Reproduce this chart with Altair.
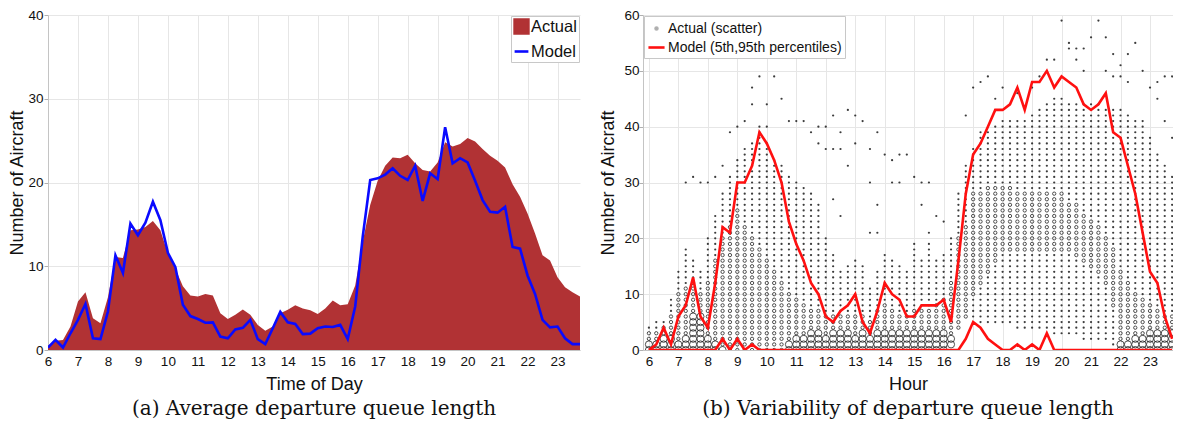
import altair as alt
import pandas as pd

FONT = "Liberation Sans"
SERIF = "DejaVu Serif"
RED_AREA = "#b13234"
BLUE = "#0a0aff"
RED = "#ff1010"

hours = [6.0, 6.25, 6.5, 6.75, 7.0, 7.25, 7.5, 7.75, 8.0, 8.25, 8.5, 8.75,
         9.0, 9.25, 9.5, 9.75, 10.0, 10.25, 10.5, 10.75, 11.0, 11.25, 11.5, 11.75,
         12.0, 12.25, 12.5, 12.75, 13.0, 13.25, 13.5, 13.75, 14.0, 14.25, 14.5, 14.75,
         15.0, 15.25, 15.5, 15.75, 16.0, 16.25, 16.5, 16.75, 17.0, 17.25, 17.5, 17.75,
         18.0, 18.25, 18.5, 18.75, 19.0, 19.25, 19.5, 19.75, 20.0, 20.25, 20.5, 20.75,
         21.0, 21.25, 21.5, 21.75, 22.0, 22.25, 22.5, 22.75, 23.0, 23.25, 23.5, 23.75]
hour_ticks = [6, 7, 8, 9, 10, 11, 12, 13, 14, 15, 16, 17, 18, 19, 20, 21, 22, 23]

# (a) average queue length
actual = [0.5, 1.1, 1.2, 2.8, 5.8, 6.9, 3.8, 3.2, 6.3, 11.1, 11.0, 14.3,
          14.4, 14.7, 15.4, 14.3, 11.5, 9.7, 7.6, 6.5, 6.4, 6.7, 6.5, 4.4,
          3.7, 4.2, 4.85, 4.2, 3.0, 2.3, 2.8, 4.4, 4.8, 5.35, 4.95, 4.75,
          4.3, 4.95, 5.9, 5.35, 5.45, 7.7, 12.9, 17.3, 20.2, 22.0, 23.0, 22.9,
          23.3, 22.3, 21.5, 21.3, 22.4, 24.8, 24.3, 24.6, 25.3, 24.9, 24.0, 23.2,
          22.6, 21.8, 19.8, 18.3, 16.3, 13.9, 11.3, 10.7, 8.7, 7.5, 6.9, 6.4]
model = [0.3, 1.2, 0.3, 2.0, 3.6, 5.5, 1.4, 1.3, 4.6, 11.3, 9.2, 15.1,
         13.7, 15.2, 17.7, 15.5, 11.6, 9.9, 5.4, 4.05, 3.7, 3.25, 3.3, 1.6,
         1.4, 2.45, 2.65, 3.6, 1.3, 0.7, 2.6, 4.55, 3.3, 3.1, 1.9, 1.95,
         2.6, 2.8, 2.75, 3.0, 1.3, 5.2, 13.5, 20.3, 20.5, 20.95, 21.7, 20.8,
         20.3, 22.0, 17.8, 21.1, 20.4, 26.6, 22.3, 22.9, 22.4, 20.2, 17.9, 16.5,
         16.4, 17.1, 12.3, 12.1, 8.9, 6.7, 3.6, 2.7, 2.8, 1.4, 0.7, 0.7]

# (b) model percentiles
p95 = [0, 1, 4, 1, 6, 8, 13, 6, 4, 12, 22, 21,
       30, 30, 33, 39, 37, 34, 30, 23, 19, 16, 12, 10,
       6, 5, 7, 8, 10, 5, 3, 7, 12, 10, 9, 6,
       6, 8, 8, 8, 9, 5, 16, 28, 35, 37, 40, 43,
       43, 44, 47, 43, 48, 48, 50, 47, 49, 48, 47, 44,
       43, 44, 46, 39, 38, 33, 28, 21, 14, 12, 6, 2]
p5 = [0, 0, 0, 0, 0, 0, 0, 0, 0, 0, 2, 0,
      2, 0, 1, 0, 0, 0, 0, 0, 0, 0, 0, 0,
      0, 0, 0, 0, 0, 0, 0, 0, 0, 0, 0, 0,
      0, 0, 0, 0, 0, 0, 0, 2, 5, 4, 2, 1,
      0, 0, 1, 0, 1, 0, 3, 0, 0, 0, 0, 0,
      0, 0, 0, 0, 0, 0, 0, 0, 0, 0, 0, 0]

# (b) observed scatter: per quarter-hour column, lowest / highest count,
# top of the big circles, and the band of medium circles
col_lo = [0, 0, 0, 0, 0, 0, 0, 0, 0, 0, 0, 0,
          0, 0, 0, 0, 0, 0, 0, 0, 0, 0, 0, 0,
          0, 0, 0, 0, 0, 0, 0, 0, 0, 0, 0, 0,
          0, 0, 0, 0, 0, 1, 4, 6, 6, 5, 5, 5,
          5, 5, 4, 4, 4, 4, 4, 3, 3, 3, 3, 2,
          2, 2, 2, 1, 0, 0, 0, 0, 0, 0, 0, 0]
col_top = [4, 5, 5, 9, 14, 18, 16, 14, 20, 24, 28, 31,
           34, 36, 37, 40, 37, 34, 33, 31, 30, 29, 28, 26,
           20, 17, 14, 15, 16, 15, 11, 14, 17, 16, 15, 14,
           19, 16, 19, 16, 17, 20, 28, 33, 36, 39, 39, 40,
           41, 41, 41, 41, 42, 43, 44, 45, 45, 44, 44, 44,
           44, 44, 43, 43, 43, 42, 41, 41, 38, 35, 33, 31]
big_hi = [1, 1, 2, 2, 1, 2, 6, 6, 2, 1, 0, -1,
          -1, -1, -1, -1, -1, -1, -1, 1, 2, 2, 3, 3,
          2, 3, 3, 3, 2, 3, 2, 3, 3, 3, 3, 3,
          3, 3, 3, 3, 3, 2, -1, -1, -1, -1, -1, -1,
          -1, -1, -1, -1, -1, -1, -1, -1, -1, -1, -1, -1,
          -1, -1, -1, -1, 1, 1, 2, 2, 3, 3, 3, 3]
mid_lo = [2, 2, 3, 3, 2, 3, 7, 7, 3, 2, 1, 0,
          0, 0, 0, 0, 0, 0, 0, 2, 3, 3, 4, 4,
          3, 4, 4, 4, 3, 4, 3, 4, 4, 4, 4, 4,
          4, 4, 4, 4, 4, 3, 4, 6, 10, 12, 14, 16,
          18, 18, 18, 18, 18, 18, 18, 18, 18, 18, 17, 16,
          15, 14, 12, 8, 2, 2, 3, 3, 4, 4, 4, 4]
mid_hi = [3, 3, 4, 6, 10, 11, 12, 10, 12, 16, 20, 22,
          25, 22, 20, 18, 16, 14, 12, 10, 9, 8, 7, 7,
          6, 6, 6, 6, 6, 6, 5, 7, 8, 7, 6, 6,
          7, 7, 7, 8, 9, 12, 20, 22, 28, 28, 29, 29,
          29, 29, 28, 28, 28, 28, 28, 28, 28, 26, 26, 24,
          23, 22, 20, 18, 14, 12, 10, 9, 8, 7, 6, 6]

# isolated observations above the columns
out_hour = [7.25, 7.5, 7.75, 8.0, 8.25, 8.5, 8.75, 9.0, 9.25, 9.5, 9.5, 9.75,
            10.0, 10.0, 10.25, 10.5, 10.75, 11.0, 11.25, 11.5, 11.75, 12.0, 12.25, 12.75,
            13.0, 13.25, 12.5, 13.75, 11.75, 12.0, 12.25, 12.5, 13.0, 13.5, 12.75, 14.0,
            14.25, 14.5, 14.75, 13.5, 14.25, 14.5, 12.5, 13.75, 13.5, 13.75, 12.25, 15.0,
            15.25, 15.5, 15.25, 15.75, 16.0, 15.5, 16.75, 17.0, 17.25, 17.5, 17.75, 18.0,
            20.0, 21.25, 21.0, 21.5, 20.25, 20.25, 20.5, 20.75, 19.75, 20.5, 20.75, 21.5,
            21.75, 22.0, 22.25, 22.5, 22.75, 23.25, 23.5, 23.75, 21.75, 22.0, 22.25, 23.0,
            23.25, 23.5, 23.75, 19.5, 19.25, 18.5, 19.0]
out_val = [30, 31, 30, 30, 31, 33, 39, 40, 41, 44, 47, 49,
           40, 44, 49, 45, 41, 41, 41, 39, 40, 40, 42, 43,
           42, 41, 39, 39, 37, 36, 36, 36, 37, 36, 33, 35,
           34, 35, 35, 30, 30, 30, 24, 26, 21, 21, 27, 31,
           30, 30, 26, 24, 23, 21, 42, 47, 48, 49, 45, 47,
           59, 59, 56, 56, 55, 54, 54, 54, 52, 52, 50, 50,
           53, 51, 53, 55, 50, 48, 49, 49, 49, 49, 48, 47,
           45, 41, 38, 52, 49, 46, 47]

# ---------------- tables ----------------
left_df = pd.DataFrame({"hour": hours, "actual": actual, "model": model})
left_df["s_act"] = "Actual"
left_df["s_mod"] = "Model"

LAB_SC = "Actual (scatter)"
LAB_MOD = "Model (5th,95th percentiles)"
line_rows = []
for h, a, b in zip(hours, p95, p5):
    line_rows.append({"hour": h, "val": a, "pct": "p95", "lab": LAB_MOD})
    line_rows.append({"hour": h, "val": b, "pct": "p5", "lab": LAB_MOD})
lines_df = pd.DataFrame(line_rows)

pts = []
for h, lo, top, bh, ml, mh in zip(hours, col_lo, col_top, big_hi, mid_lo, mid_hi):
    for v in range(lo, top + 1):
        if v <= bh:
            s = "big"
        elif ml <= v <= mh:
            s = "mid"
        else:
            s = "small"
        pts.append({"hour": h, "count": v, "sz": s})
for h, v in zip(out_hour, out_val):
    pts.append({"hour": h, "count": v, "sz": "small"})
pts_df = pd.DataFrame(pts)

H = 335


def x_axis(title):
    return alt.Axis(values=hour_ticks, format="d", title=title, ticks=False,
                    labelPadding=4, titlePadding=8, grid=True, labelFlush=False)


# ---------------- (a) ----------------
tm = "datum.value === 'Model'"
leg_left = alt.Legend(
    title=None, orient="top-right", offset=1, padding=2, rowPadding=4,
    strokeColor="#c8c8c8", fillColor="#ffffff", labelFont=FONT, labelFontSize=16.5,
    labelColor="#111111", labelOffset=1, symbolSize=190, symbolStrokeWidth=2.6,
    labelLimit=300,
    symbolType={"expr": f"{tm} ? 'stroke' : 'square'"},
    symbolFillColor={"expr": f"{tm} ? 'transparent' : '{RED_AREA}'"},
    symbolStrokeColor={"expr": f"{tm} ? '{BLUE}' : '{RED_AREA}'"},
)
color_left = alt.Scale(domain=["Actual", "Model"], range=[RED_AREA, BLUE])
x_left = alt.X("hour:Q", scale=alt.Scale(domain=[6, 23.75], nice=False, zero=False),
               axis=x_axis("Time of Day"))
y_scale_left = alt.Scale(domain=[0, 40], nice=False)

area = alt.Chart(left_df).mark_area(opacity=1, interpolate="linear").encode(
    x=x_left,
    y=alt.Y("actual:Q", scale=y_scale_left, axis=alt.Axis(
        values=[0, 10, 20, 30, 40], title="Number of Aircraft", tickSize=4,
        labelPadding=1, titlePadding=1, grid=True)),
    color=alt.Color("s_act:N", scale=color_left, legend=leg_left),
)
mline = alt.Chart(left_df).mark_line(strokeWidth=2.6, clip=True).encode(
    x=x_left,
    y=alt.Y("model:Q", scale=y_scale_left),
    color=alt.Color("s_mod:N", scale=color_left, legend=leg_left),
)
left = alt.layer(area, mline).properties(
    width=532, height=H,
    title=alt.TitleParams("(a) Average departure queue length", orient="bottom",
                          anchor="middle", frame="group", font=SERIF, fontSize=20,
                          fontWeight="normal", color="#111111", offset=5),
)

# ---------------- (b) ----------------
ta = "datum.value === 'Actual (scatter)'"
dot_path = "M-0.12,0A0.12,0.12 0 1,0 0.12,0A0.12,0.12 0 1,0 -0.12,0Z"
leg_right = alt.Legend(
    title=None, orient="top-left", offset=1, padding=3, rowPadding=2,
    strokeColor="#c8c8c8", fillColor="#ffffff", labelFont=FONT, labelFontSize=14,
    labelColor="#111111", labelOffset=2, symbolSize=260, symbolStrokeWidth=2.6,
    labelLimit=400,
    symbolType={"expr": f"{ta} ? '{dot_path}' : 'stroke'"},
    symbolFillColor={"expr": f"{ta} ? '#a0a0a0' : 'transparent'"},
    symbolStrokeColor={"expr": f"{ta} ? '#a0a0a0' : '{RED}'"},
)
color_right = alt.Scale(domain=[LAB_SC, LAB_MOD], range=["#b0b0b0", RED])
x_right = alt.X("hour:Q", scale=alt.Scale(domain=[5.8, 23.78], nice=False, zero=False),
                axis=x_axis("Hour"))
y_scale_right = alt.Scale(domain=[0, 60], nice=False)
y_right = alt.Y("count:Q", scale=y_scale_right, axis=alt.Axis(
    values=[0, 10, 20, 30, 40, 50, 60], title="Number of Aircraft", tickSize=4,
    labelPadding=0, titlePadding=6, grid=True))

dots = alt.Chart(pts_df).transform_filter(alt.datum.sz == "small").mark_circle(
    color="#262626", size=5, opacity=0.9, clip=True).encode(x=x_right, y=y_right)
rings = alt.Chart(pts_df).transform_filter(alt.datum.sz != "small").mark_point(
    filled=False, color="#1a1a1a", strokeWidth=0.9, opacity=0.85, clip=True).encode(
    x=x_right,
    y=alt.Y("count:Q", scale=y_scale_right),
    size=alt.Size("sz:O", scale=alt.Scale(domain=["mid", "big"], range=[11, 50]),
                  legend=None),
)
plines = alt.Chart(lines_df).mark_line(strokeWidth=2.6, clip=True).encode(
    x=x_right,
    y=alt.Y("val:Q", scale=y_scale_right),
    detail="pct:N",
    color=alt.Color("lab:N", scale=color_right, legend=leg_right),
)
right = alt.layer(dots, rings, plines).properties(
    width=530, height=H,
    title=alt.TitleParams("(b) Variability of departure queue length", orient="bottom",
                          anchor="middle", frame="group", font=SERIF, fontSize=20,
                          fontWeight="normal", color="#111111", offset=5),
)

chart = alt.hconcat(left, right, spacing=19).properties(
    padding={"left": 0, "top": 0, "right": 0, "bottom": 0}
).resolve_scale(color="independent", x="independent", y="independent").configure_axis(
    labelFont=FONT, titleFont=FONT, labelFontSize=13.5, titleFontSize=18,
    titleFontWeight="normal", labelColor="#111111", titleColor="#111111",
    gridColor="#e6e6e6", gridWidth=1, domainColor="#c4c4c4", tickColor="#b0b0b0",
).configure_view(stroke=None)

chart.save("out.html", embed_options={"renderer": "svg", "actions": False})
